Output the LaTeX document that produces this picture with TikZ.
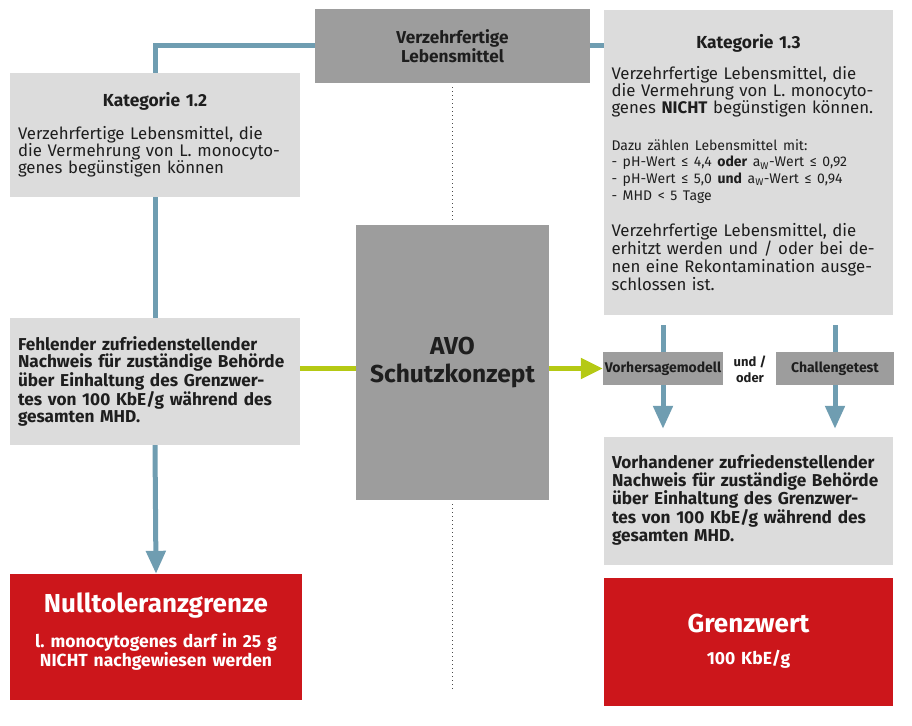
\documentclass[tikz,border=0pt]{standalone}
\usepackage{fontspec}
\setmainfont{Fira Sans}
\usepackage{tikz}
\usetikzlibrary{arrows.meta,positioning,calc}
\frenchspacing

\definecolor{boxlight}{RGB}{220,220,220}
\definecolor{boxdark}{RGB}{157,157,157}
\definecolor{boxred}{RGB}{204,22,27}
\definecolor{linkblue}{RGB}{111,157,177}
\definecolor{linkgreen}{RGB}{181,201,20}
\definecolor{textdark}{RGB}{30,30,30}

\begin{document}
\begin{tikzpicture}[x=1pt, y=-1pt, >={Triangle[length=23pt,width=19pt]}]

        \tikzstyle{lightblock} = [fill=boxlight, inner sep=0pt, text=textdark, align=left]
        \tikzstyle{darkblock} = [fill=boxdark, inner sep=0pt, text=textdark, align=center]
        \tikzstyle{redblock} = [fill=boxred, inner sep=0pt, text=white, align=center]
        \tikzstyle{line} = [draw=linkblue, line width=5pt]
        \tikzstyle{greenline} = [draw=linkgreen, line width=5pt]
        \tikzstyle{divider} = [draw=textdark!80, line width=1.2pt, dash pattern=on 1.2pt off 2.8pt]

        \useasboundingbox (0,0) rectangle (912,725);

        \node [darkblock, minimum width=275pt, minimum height=74pt, font=\bfseries\fontsize{17.2}{17.5}\selectfont] (food) at (452.5,46) {Verzehrfertige\\Lebensmittel};

        \node [lightblock, minimum width=290pt, minimum height=124pt, text width=274pt, font=\fontsize{16.8}{17}\selectfont] (kat12) at (155,135)
            {{\centering\bfseries\fontsize{17.4}{17}\selectfont Kategorie 1.2\par}\vspace{16pt}
             Verzehrfertige Lebensmittel, die\\die Vermehrung von L. monocyto-\\genes begünstigen können};

        \node [lightblock, minimum width=289pt, minimum height=305pt, text width=274pt, font=\fontsize{16.8}{17}\selectfont] (kat13) at (748.5,162.5)
            {{\centering\bfseries\fontsize{17.4}{17}\selectfont Kategorie 1.3\par}\vspace{14pt}
             Verzehrfertige Lebensmittel, die\\die Vermehrung von L. monocyto-\\genes \textbf{NICHT} begünstigen können.\par\vspace{20pt}
             {\fontsize{14}{16.8}\selectfont Dazu zählen Lebensmittel mit:\\- pH-Wert ≤ 4,4 \textbf{oder} a\textsubscript{W}-Wert ≤ 0,92\\- pH-Wert ≤ 5,0 \textbf{und} a\textsubscript{W}-Wert ≤ 0,94\\- MHD < 5 Tage\par}\vspace{18pt}
             {\fontsize{16.8}{18}\selectfont Verzehrfertige Lebensmittel, die\\erhitzt werden und / oder bei de-\\nen eine Rekontamination ausge-\\schlossen ist.\par}};

        \node [lightblock, minimum width=290pt, minimum height=127pt, text width=274pt, font=\bfseries\fontsize{17.2}{17.5}\selectfont] (fehl) at (155,381.5)
            {Fehlender zufriedenstellender\\Nachweis für zuständige Behörde\\über Einhaltung des Grenzwer-\\tes von 100 KbE/g während des\\gesamten MHD.};

        \node [darkblock, minimum width=193pt, minimum height=275pt, font=\bfseries\fontsize{24.5}{28}\selectfont] (avo) at (452.5,362.5) {AVO\\Schutzkonzept};

        \node [darkblock, minimum width=120pt, minimum height=33pt, font=\bfseries\fontsize{14}{16}\selectfont] (vhm) at (663,368.5) {Vorhersagemodell};
        \node [darkblock, minimum width=118pt, minimum height=33pt, font=\bfseries\fontsize{14}{16}\selectfont] (chal) at (835,368.5) {Challengetest};
        \node [align=center, text=textdark, inner sep=0pt, font=\bfseries\fontsize{13}{16}\selectfont] (undoder) at (750,369) {und /\\oder};

        \node [lightblock, minimum width=289pt, minimum height=128pt, text width=273pt, font=\bfseries\fontsize{17.2}{17.5}\selectfont] (vorh) at (748.5,501)
            {Vorhandener zufriedenstellender\\Nachweis für zuständige Behörde\\über Einhaltung des Grenzwer-\\tes von 100 KbE/g während des\\gesamten MHD.\rule[-6pt]{0pt}{6pt}};

        \node [redblock, minimum width=292pt, minimum height=126pt, text width=292pt, font=\bfseries\fontsize{17.5}{18.5}\selectfont] (null) at (156,637)
            {{\fontsize{26}{26}\selectfont Nulltoleranzgrenze\par}\vspace{14pt}
             l. monocytogenes darf in 25 g\\NICHT nachgewiesen werden\rule[-15pt]{0pt}{1pt}};
        \node [redblock, minimum width=289pt, minimum height=128pt, text width=289pt, font=\bfseries\fontsize{17.5}{18}\selectfont] (grenz) at (748.5,641.5)
            {{\fontsize{26}{27}\selectfont Grenzwert\par}\vspace{14pt}
             100 KbE/g};

        \coordinate (dotend) at (452.5,690);

        % connectors
        \draw [line] (food.west) -| (fehl.north |- kat12.north);
        \draw [line] (food.east) -- (kat13.west |- food.east);
        \draw [line] (kat12.south) -- (fehl.north);
        \draw [line, ->] (fehl.south) -- (null.north);

        \draw [greenline] (fehl.east |- vhm.west) -- (avo.west |- vhm.west);
        \draw [greenline, -{Triangle[length=22pt,width=20pt]}] (avo.east |- vhm.west) -- (vhm.west);

        \draw [line, shorten <=10pt] (kat13.south -| vhm.north) -- (vhm.north);
        \draw [line, shorten <=10pt] (kat13.south -| chal.north) -- (chal.north);
        \draw [line, ->, shorten >=8pt] (vhm.south) -- (vorh.north -| vhm.south);
        \draw [line, ->, shorten >=8pt] (chal.south) -- (vorh.north -| chal.south);

        \draw [divider, shorten <=4pt, shorten >=5pt] (food.south) -- (avo.north);
        \draw [divider, shorten <=4pt] (avo.south) -- (dotend);

\end{tikzpicture}
\end{document}
